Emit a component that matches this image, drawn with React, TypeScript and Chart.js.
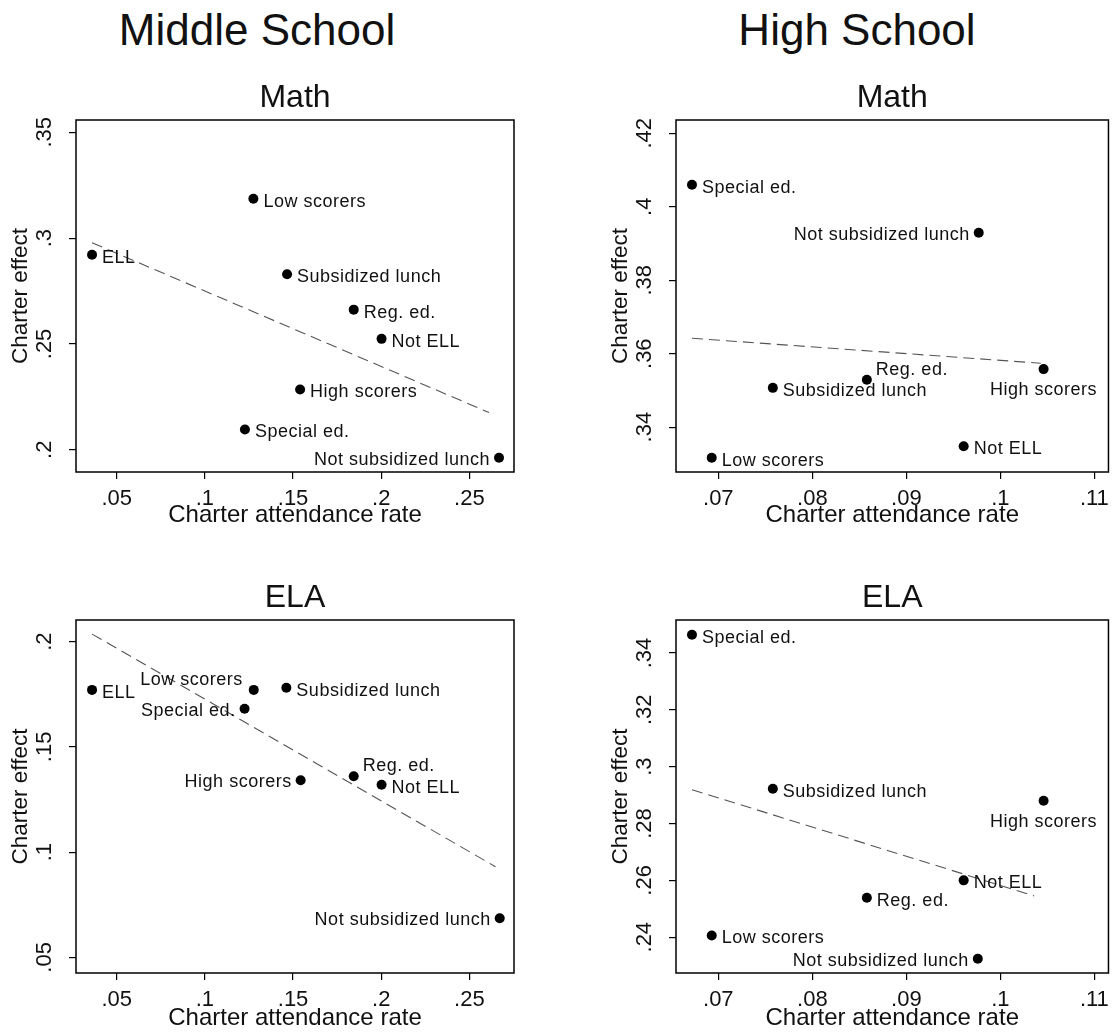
import React, { useEffect, useRef } from "react";
import { Chart, registerables } from "chart.js";

Chart.register(...registerables);

const FAMILY = "'Liberation Sans', Arial, sans-serif";

// ---------- Data ----------
const msMathLabels = ["Low scorers", "ELL", "Subsidized lunch", "Reg. ed.", "Not ELL", "High scorers", "Special ed.", "Not subsidized lunch"];
const msMathX = [0.1275, 0.036, 0.1466, 0.1844, 0.2002, 0.154, 0.1227, 0.2668];
const msMathY = [0.3186, 0.2921, 0.2829, 0.2662, 0.2524, 0.2285, 0.2096, 0.1962];
const msMathFitX = [0.036, 0.2611];
const msMathFitY = [0.2978, 0.2176];

const msElaLabels = ["Low scorers", "ELL", "Subsidized lunch", "Reg. ed.", "Not ELL", "High scorers", "Special ed.", "Not subsidized lunch"];
const msElaX = [0.1277, 0.036, 0.1462, 0.1844, 0.2002, 0.1543, 0.1225, 0.2672];
const msElaY = [0.1771, 0.1771, 0.1781, 0.1361, 0.132, 0.1342, 0.1681, 0.0686];
const msElaFitX = [0.036, 0.2648];
const msElaFitY = [0.2036, 0.0931];

const hsMathLabels = ["Special ed.", "Not subsidized lunch", "Reg. ed.", "Subsidized lunch", "High scorers", "Not ELL", "Low scorers"];
const hsMathX = [0.0672, 0.0977, 0.0858, 0.0758, 0.1046, 0.0961, 0.0693];
const hsMathY = [0.406, 0.3929, 0.3529, 0.3507, 0.3558, 0.3348, 0.3317];
const hsMathFitX = [0.0672, 0.1043];
const hsMathFitY = [0.3642, 0.3574];

const hsElaLabels = ["Special ed.", "Subsidized lunch", "High scorers", "Not ELL", "Reg. ed.", "Low scorers", "Not subsidized lunch"];
const hsElaX = [0.0672, 0.0758, 0.1046, 0.0961, 0.0858, 0.0693, 0.0976];
const hsElaY = [0.3464, 0.2922, 0.288, 0.26, 0.2539, 0.2406, 0.2324];
const hsElaFitX = [0.0672, 0.1036];
const hsElaFitY = [0.2919, 0.2545];

// tick labels
const msXTicks = [0.05, 0.1, 0.15, 0.2, 0.25];
const hsXTicks = [0.07, 0.08, 0.09, 0.1, 0.11];
const msMathYTicks = [0.2, 0.25, 0.3, 0.35];
const hsMathYTicks = [0.34, 0.36, 0.38, 0.4, 0.42];
const msElaYTicks = [0.05, 0.1, 0.15, 0.2];
const hsElaYTicks = [0.24, 0.26, 0.28, 0.3, 0.32, 0.34];

// ---------- Styling (label placement around markers) ----------
const msMathPlace = ["r", "r", "r", "r", "r", "r", "r", "l"];
const msElaPlace = ["ul", "r", "r", "ur", "r", "l", "l", "l"];
const hsMathPlace = ["r", "l", "ur", "r", "b", "r", "r"];
const hsElaPlace = ["r", "r", "b", "r", "r", "r", "l"];

const fmt = (v: number) => {
  const s = String(+v.toFixed(4));
  return s.replace(/^0\./, ".").replace(/^-0\./, "-.");
};

type PanelDef = {
  title: string;
  left: number;
  top: number;
  width: number;
  height: number;
  padRight: number;
  xHeight: number;
  xTitlePad: number;
  xRange: [number, number];
  yRange: [number, number];
  xTicks: number[];
  yTicks: number[];
  labels: string[];
  xs: number[];
  ys: number[];
  fitX: number[];
  fitY: number[];
  place: string[];
};

const panels: PanelDef[] = [
  {
    title: "Math", left: 0, top: 60, width: 520, height: 470, padRight: 6, xHeight: 58, xTitlePad: 3,
    xRange: [0.0269, 0.2753], yRange: [0.1895, 0.3558], xTicks: msXTicks, yTicks: msMathYTicks,
    labels: msMathLabels, xs: msMathX, ys: msMathY, fitX: msMathFitX, fitY: msMathFitY, place: msMathPlace,
  },
  {
    title: "Math", left: 600, top: 60, width: 518, height: 470, padRight: 5, xHeight: 58, xTitlePad: 3,
    xRange: [0.0655, 0.1115], yRange: [0.3278, 0.4236], xTicks: hsXTicks, yTicks: hsMathYTicks,
    labels: hsMathLabels, xs: hsMathX, ys: hsMathY, fitX: hsMathFitX, fitY: hsMathFitY, place: hsMathPlace,
  },
  {
    title: "ELA", left: 0, top: 560, width: 520, height: 470, padRight: 6, xHeight: 57, xTitlePad: 0,
    xRange: [0.0269, 0.2753], yRange: [0.0426, 0.2103], xTicks: msXTicks, yTicks: msElaYTicks,
    labels: msElaLabels, xs: msElaX, ys: msElaY, fitX: msElaFitX, fitY: msElaFitY, place: msElaPlace,
  },
  {
    title: "ELA", left: 600, top: 560, width: 518, height: 470, padRight: 5, xHeight: 57, xTitlePad: 0,
    xRange: [0.0655, 0.1115], yRange: [0.2274, 0.3516], xTicks: hsXTicks, yTicks: hsElaYTicks,
    labels: hsElaLabels, xs: hsElaX, ys: hsElaY, fitX: hsElaFitX, fitY: hsElaFitY, place: hsElaPlace,
  },
];

function makeDecor(p: PanelDef) {
  return {
    id: "panelDecor",
    afterDraw(chart: any) {
      const ctx: CanvasRenderingContext2D = chart.ctx;
      const a = chart.chartArea;
      ctx.save();
      // frame
      ctx.strokeStyle = "#000";
      ctx.lineWidth = 1.5;
      ctx.strokeRect(a.left, a.top, a.right - a.left, a.bottom - a.top);
      // subtitle
      ctx.fillStyle = "#111";
      ctx.font = `32px ${FAMILY}`;
      ctx.textAlign = "center";
      ctx.textBaseline = "middle";
      ctx.fillText(p.title, (a.left + a.right) / 2, a.top - 22);
      // rotated y tick labels
      const ys = chart.scales.y;
      ctx.font = `22px ${FAMILY}`;
      ys.ticks.forEach((t: any) => {
        const py = ys.getPixelForValue(t.value);
        ctx.save();
        ctx.translate(a.left - 31, py);
        ctx.rotate(-Math.PI / 2);
        ctx.fillText(fmt(t.value), 0, 0);
        ctx.restore();
      });
      // marker labels
      const meta = chart.getDatasetMeta(0);
      ctx.font = `18px ${FAMILY}`;
      (ctx as any).letterSpacing = "0.5px";
      meta.data.forEach((el: any, i: number) => {
        const txt = p.labels[i];
        const pos = p.place[i];
        let x = el.x, y = el.y;
        let align: CanvasTextAlign = "left";
        if (pos === "r") { x += 10; y += 3; align = "left"; }
        else if (pos === "l") { x -= 9; y += 2; align = "right"; }
        else if (pos === "ur") { x += 9; y -= 10; align = "left"; }
        else if (pos === "ul") { x -= 11; y -= 10; align = "right"; }
        else if (pos === "b") { y += 21; align = "center"; }
        ctx.textAlign = align;
        ctx.textBaseline = "middle";
        ctx.fillText(txt, x, y);
      });
      ctx.restore();
    },
  };
}

function Panel({ p }: { p: PanelDef }) {
  const ref = useRef<HTMLCanvasElement | null>(null);
  useEffect(() => {
    if (!ref.current) return;
    const gridOpts = {
      display: true,
      drawOnChartArea: false,
      drawTicks: true,
      tickLength: 7,
      color: "#000",
      lineWidth: 1.2,
    };
    const chart = new Chart(ref.current, {
      type: "scatter",
      data: {
        datasets: [
          {
            data: p.xs.map((x, i) => ({ x, y: p.ys[i] })),
            backgroundColor: "#000",
            borderColor: "#000",
            borderWidth: 0,
            pointRadius: 5,
            pointHoverRadius: 5,
          },
          {
            data: p.fitX.map((x, i) => ({ x, y: p.fitY[i] })),
            showLine: true,
            borderColor: "#555",
            borderWidth: 1.1,
            borderDash: [11, 6],
            pointRadius: 0,
            pointHoverRadius: 0,
            fill: false,
          } as any,
        ],
      },
      options: {
        responsive: false,
        animation: false,
        events: [],
        layout: { padding: { top: 60, left: 0, right: p.padRight, bottom: 0 } },
        plugins: {
          legend: { display: false },
          tooltip: { enabled: false },
          title: { display: false },
        },
        scales: {
          x: {
            type: "linear",
            min: p.xRange[0],
            max: p.xRange[1],
            afterBuildTicks: (s: any) => {
              s.ticks = p.xTicks.map((v) => ({ value: v }));
            },
            afterFit: (s: any) => {
              s.height = p.xHeight;
            },
            border: { display: false },
            grid: gridOpts as any,
            ticks: {
              autoSkip: false,
              maxRotation: 0,
              minRotation: 0,
              padding: 9,
              color: "#111",
              font: { family: FAMILY, size: 22, lineHeight: 1 },
              callback: (v: any) => fmt(Number(v)),
            },
            title: {
              display: true,
              text: "Charter attendance rate",
              color: "#111",
              font: { family: FAMILY, size: 24, lineHeight: 1 },
              padding: { top: 0, bottom: p.xTitlePad },
            },
          },
          y: {
            type: "linear",
            min: p.yRange[0],
            max: p.yRange[1],
            afterBuildTicks: (s: any) => {
              s.ticks = p.yTicks.map((v) => ({ value: v }));
            },
            afterFit: (s: any) => {
              s.width = 76;
            },
            border: { display: false },
            grid: gridOpts as any,
            ticks: { display: false },
            title: {
              display: true,
              text: "Charter effect",
              color: "#111",
              font: { family: FAMILY, size: 22.5, lineHeight: 1 },
              padding: { top: 10, bottom: 0 },
            },
          },
        },
      } as any,
      plugins: [makeDecor(p)],
    });
    return () => chart.destroy();
  }, [p]);
  return (
    <canvas
      ref={ref}
      width={p.width}
      height={p.height}
      style={{ position: "absolute", left: p.left, top: p.top, width: p.width, height: p.height, display: "block" }}
    />
  );
}

const headerStyle: React.CSSProperties = {
  position: "absolute",
  top: 8,
  width: 400,
  textAlign: "center",
  fontFamily: FAMILY,
  fontSize: 44,
  lineHeight: "44px",
  color: "#111",
  whiteSpace: "nowrap",
};

export default function App() {
  return (
    <div style={{ position: "absolute", left: 0, top: 0, width: 1118, height: 1032, background: "#fff", overflow: "hidden" }}>
      <div style={{ ...headerStyle, left: 257 - 200 }}>Middle School</div>
      <div style={{ ...headerStyle, left: 857 - 200 }}>High School</div>
      {panels.map((p, i) => (
        <Panel key={i} p={p} />
      ))}
    </div>
  );
}
